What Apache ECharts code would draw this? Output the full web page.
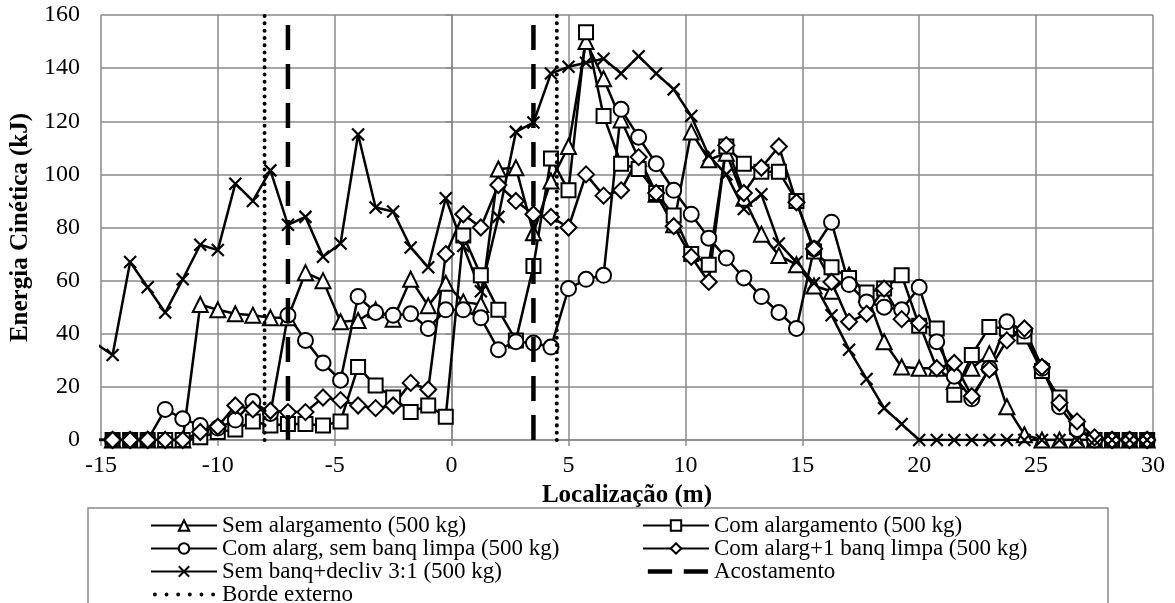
<!DOCTYPE html>
<html>
<head>
<meta charset="utf-8">
<script src="https://cdn.jsdelivr.net/npm/echarts@6/dist/echarts.min.js"></script>
<style>
  html, body { margin: 0; padding: 0; background: #fff; }
  #chart { width: 1175px; height: 603px; }
</style>
</head>
<body>
<div id="chart"></div>
<script>
// Measurement locations (m)
const location_m = [
  -15.25, -14.5, -13.75, -13, -12.25, -11.5, -10.75, -10, -9.25, -8.5,
  -7.75, -7, -6.25, -5.5, -4.75, -4, -3.25, -2.5, -1.75, -1,
  -0.25, 0.5, 1.25, 2, 2.75, 3.5, 4.25, 5, 5.75, 6.5,
  7.25, 8, 8.75, 9.5, 10.25, 11, 11.75, 12.5, 13.25, 14,
  14.75, 15.5, 16.25, 17, 17.75, 18.5, 19.25, 20, 20.75, 21.5,
  22.25, 23, 23.75, 24.5, 25.25, 26, 26.75, 27.5, 28.25, 29,
  29.75, 30.5
];

// Kinetic energy (kJ) per scenario, one value per location
const semAlargamento = [
  0, 0, 0, 0, 0, 0, 51, 49, 47.5, 47,
  46, 46, 63, 60, 44.5, 45, 49, 45.5, 60.5, 50.5,
  59, 52, 51, 102, 102.5, 78, 97.5, 110.5, 150, 136,
  120.5, 106, 92.5, 81, 116, 105.5, 108, 91, 77.5, 69.5,
  66, 58, 56, 62, 55, 37, 27.5, 27, 27, 22,
  27, 32.5, 12.5, 2, 0, 0, 0, 0, 0, 0,
  0, 0
];
const comAlargamento = [
  0, 0, 0, 0, 0, 0, 1, 3, 4, 7,
  5.5, 6, 6, 5.5, 7, 27.5, 20.5, 16, 10.5, 13,
  8.75, 77, 62, 49, 37.5, 65.5, 106, 94, 153.5, 122,
  104, 102, 93, 84.5, 70, 66, 110.5, 104, 101, 101,
  90, 71, 65, 61, 55.5, 57, 62, 43, 42, 17,
  32, 42.5, 42, 39, 26, 16, 5, 0, 0, 0,
  0, 0
];
const comAlargSemBanq = [
  0, 0, 0, 0, 11.5, 8, 5.5, 4.5, 7.5, 14.5,
  10, 47, 37.5, 29, 22.5, 54, 48, 47, 47.5, 42,
  49, 49, 46, 34, 37, 36.5, 35, 57, 60.5, 62,
  124.5, 114, 104, 94, 85, 76, 68.5, 61, 54, 48,
  42, 72, 82, 58.5, 52, 50, 49, 57.5, 37, 24,
  15.5, 27, 44.5, 41, 27, 12.5, 4, 0, 0, 0,
  0, 0
];
const comAlarg1Banq = [
  0, 0, 0, 0, 0, 0, 3, 5, 13, 11.5,
  11, 10.5, 10.5, 16, 15, 13, 12, 13, 21.5, 19,
  70, 85, 80, 96, 90, 85, 84, 80, 100, 92,
  94, 106.5, 93, 80.5, 69, 59.5, 111, 93, 102.5, 110.5,
  89.5, 72, 59.5, 44.5, 47.5, 57, 45.5, 44, 27, 29,
  16.5, 26.5, 37.5, 42, 27.5, 14, 7, 1, 0, 0,
  0, 0
];
const semBanqDecliv = [
  36.5, 32, 67, 57.5, 48, 60.5, 73.5, 71.5, 96.5, 90,
  101.5, 81, 84, 69, 74, 115, 87.5, 86, 72.5, 65,
  91, 73, 56, 84, 116, 119.5, 138, 140.5, 142, 143.5,
  138, 144.5, 138, 132, 122, 107, 100, 87, 92.5, 74,
  67, 59, 47, 34, 23, 12, 6, 0, 0, 0,
  0, 0, 0, 0, 0, 0, 0, 0, 0, 0,
  0, 0
];

// Reference lines across the section (m)
const acostamentoX = [-7, 3.5];
const bordeExternoX = [-8, 4.5];
const energyRange = [0, 160];

// Axis ticks
const xTicks = { min: -15, max: 30, step: 5 };
const yTicks = { min: 0, max: 160, step: 20 };

const names = [
  'Sem alargamento (500 kg)',
  'Com alargamento (500 kg)',
  'Com alarg, sem banq limpa (500 kg)',
  'Com alarg+1 banq limpa (500 kg)',
  'Sem banq+decliv 3:1 (500 kg)',
  'Acostamento',
  'Borde externo'
];

const serif = 'Liberation Serif, Times New Roman, serif';
const gridGray = '#8a8a8a';

function pairs(ys) { return location_m.map((x, i) => [x, ys[i]]); }
function verticals(xs) {
  const out = [];
  xs.forEach((x, i) => {
    if (i > 0) out.push(['-', '-']);
    out.push([x, energyRange[0]], [x, energyRange[1]]);
  });
  return out;
}

const crossPath = 'path://M0,0L10,10M10,0L0,10';
const anchors = 'M0,0L0.01,0L0,0.01Z M68,13L67.99,13L68,12.99Z ';
let dots = '';
[4, 16, 28, 40, 52, 64].forEach(c => {
  dots += 'M' + (c - 2) + ',6.5a2,2 0 1,0 4,0a2,2 0 1,0 -4,0Z ';
});
const dotIcon = 'path://' + anchors + dots;
const dashIcon = 'path://' + anchors + 'M5,4.25H30V8.75H5Z M42,4.25H67V8.75H42Z';

function markerSeries(name, ys, symbol, size, bw) {
  return {
    name: name,
    type: 'line',
    data: pairs(ys),
    symbol: symbol,
    symbolSize: size,
    showAllSymbol: true,
    clip: true,
    lineStyle: { color: '#000', width: 2.5 },
    itemStyle: { color: '#fff', borderColor: '#000', borderWidth: bw },
    emphasis: { disabled: true },
    z: 3
  };
}

const series = [
  markerSeries(names[0], semAlargamento, 'triangle', 15, 2),
  markerSeries(names[1], comAlargamento, 'rect', 14, 2),
  markerSeries(names[2], comAlargSemBanq, 'circle', 15, 2),
  markerSeries(names[3], comAlarg1Banq, 'diamond', 16, 2),
  markerSeries(names[4], semBanqDecliv, crossPath, 12, 2.2),
  {
    name: names[5], type: 'line', data: verticals(acostamentoX),
    symbol: 'none', connectNulls: false,
    lineStyle: { color: '#000', width: 4.5, type: [25, 14], cap: 'butt' },
    itemStyle: { color: '#000' },
    emphasis: { disabled: true }, z: 4
  },
  {
    name: names[6], type: 'line', data: verticals(bordeExternoX),
    symbol: 'none', connectNulls: false,
    lineStyle: { color: '#000', width: 4, type: [0.01, 7.3], cap: 'round' },
    itemStyle: { color: '#000' },
    emphasis: { disabled: true }, z: 4
  }
];

const legendCommon = {
  orient: 'vertical',
  top: 514,
  height: 120,
  padding: 0,
  itemGap: 0,
  itemWidth: 66,
  itemHeight: 13,
  selectedMode: false,
  textStyle: { fontFamily: serif, fontSize: 23, lineHeight: 22.5, color: '#000' }
};

const option = {
  animation: false,
  backgroundColor: '#fff',
  grid: { left: 100, right: 22, top: 15, bottom: 163 },
  xAxis: {
    type: 'value',
    min: xTicks.min, max: xTicks.max, interval: xTicks.step,
    name: 'Localização (m)', nameLocation: 'middle', nameGap: 42,
    nameTextStyle: { fontFamily: serif, fontSize: 25, fontWeight: 'bold', color: '#000' },
    axisLine: { show: true, onZero: false, lineStyle: { color: gridGray, width: 1.5 } },
    axisTick: { show: true, inside: false, length: 6, lineStyle: { color: gridGray, width: 1.5 } },
    axisLabel: { fontFamily: serif, fontSize: 24, color: '#000', margin: 14 },
    splitLine: { show: true, lineStyle: { color: gridGray, width: 1.5 } }
  },
  yAxis: {
    type: 'value',
    min: yTicks.min, max: yTicks.max, interval: yTicks.step,
    name: 'Energia Cinética (kJ)', nameLocation: 'middle', nameGap: 65,
    nameTextStyle: { fontFamily: serif, fontSize: 25, fontWeight: 'bold', color: '#000' },
    axisLine: { show: true, lineStyle: { color: gridGray, width: 1.5 } },
    axisTick: { show: true, inside: false, length: 6, lineStyle: { color: gridGray, width: 1.5 } },
    axisLabel: { fontFamily: serif, fontSize: 24, color: '#000', margin: 21 },
    splitLine: { show: true, lineStyle: { color: gridGray, width: 1.5 } }
  },
  legend: [
    Object.assign({}, legendCommon, {
      left: 150,
      data: [names[0], names[2], names[4], { name: names[6], icon: dotIcon }]
    }),
    Object.assign({}, legendCommon, {
      left: 642,
      data: [names[1], names[3], { name: names[5], icon: dashIcon }]
    })
  ],
  graphic: [{
    type: 'rect',
    shape: { x: 88, y: 508, width: 1020, height: 200 },
    style: { fill: 'none', stroke: gridGray, lineWidth: 1.5 },
    silent: true, z: -1
  }],
  series: series
};

const chart = echarts.init(document.getElementById('chart'), null, { renderer: 'canvas' });
chart.setOption(option);
</script>
</body>
</html>
